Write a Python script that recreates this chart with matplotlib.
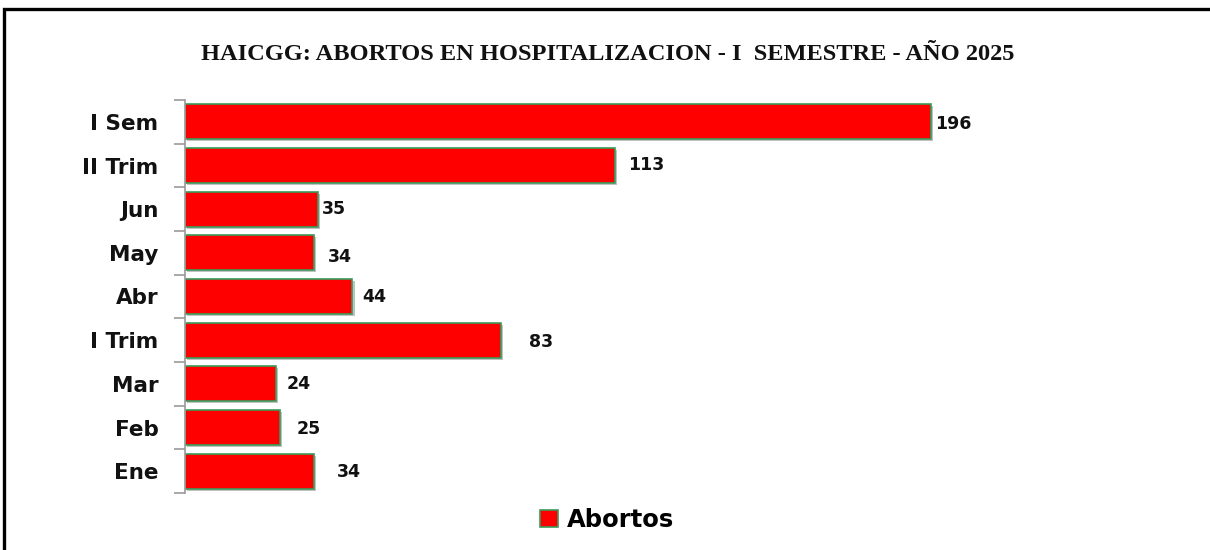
import matplotlib
matplotlib.use("Agg")
import matplotlib.pyplot as plt
import matplotlib.patheffects as pe
from matplotlib.patches import Rectangle
import numpy as np

categories = ["I Sem", "II Trim", "Jun", "May", "Abr", "I Trim", "Mar", "Feb", "Ene"]
values = [196, 113, 35, 34, 44, 83, 24, 25, 34]
series_name = "Abortos"
title = "HAICGG: ABORTOS EN HOSPITALIZACION - I  SEMESTRE - AÑO 2025"

# layout: pixel offsets of the data labels from the bar ends (as in the original)
label_dx_px = [4, 13, 4, 13, 10, 28, 10, 16, 22]
label_dy_px = [2, -1, 0, 4, 0, 2, 0, 1, 1]

W, H = 1210, 550
fig = plt.figure(figsize=(W / 100, H / 100), dpi=100)
fig.patch.set_facecolor("white")

# outer frame
fig.patches.append(Rectangle((4 / W, -0.02), 1.1, (H - 9) / H + 0.02, transform=fig.transFigure,
                             fill=False, edgecolor="black", linewidth=2.4))

xmax = 220
px_per_unit = (931 - 185) / 196
left = 185 / W
width = (xmax * px_per_unit) / W
ax = fig.add_axes([left, (H - 493) / H, width, (493 - 100) / H])

n = len(categories)
ypos = np.arange(n)
ax.barh(ypos, values, height=0.8, color="#FF0000", edgecolor="#3C9A5A", linewidth=1.2,
        path_effects=[pe.SimplePatchShadow(offset=(1.5, -1.5), shadow_rgbFace="#999999", alpha=0.6), pe.Normal()])
ax.set_ylim(n - 0.5, -0.5)
ax.set_xlim(0, xmax)

for spine in ["top", "right", "bottom"]:
    ax.spines[spine].set_visible(False)
ax.spines["left"].set_color("#9A9A9A")
ax.spines["left"].set_linewidth(1.2)
ax.set_xticks([])
ax.set_yticks(ypos)
ax.set_yticklabels(categories, fontsize=15.5, fontweight="bold", family="DejaVu Sans", color="#111111")
ax.tick_params(axis="y", which="major", length=0, pad=19)
ax.set_yticks(np.arange(-0.5, n, 1), minor=True)
ax.tick_params(axis="y", which="minor", length=8, color="#9A9A9A", width=1.2)

row_px = (493 - 100) / n
for y, v, dx, dy in zip(ypos, values, label_dx_px, label_dy_px):
    ax.text(v + dx / px_per_unit, y + dy / row_px, str(v), va="center", ha="left", fontsize=12.5,
            fontweight="bold", family="DejaVu Sans", color="#111111")

fig.text(608 / W, 1 - 55 / H, title, ha="center", va="center", fontsize=17.6, fontweight="bold",
         family="Liberation Serif", color="#111111")

handle = Rectangle((0, 0), 1, 1, facecolor="#FF0000", edgecolor="#3C9A5A", linewidth=1.2)
fig.legend([handle], [series_name], loc="center", bbox_to_anchor=(607 / W, 1 - 520 / H),
           frameon=False, prop={"size": 17.5, "weight": "bold", "family": "DejaVu Sans"},
           handlelength=0.75, handleheight=0.75, handletextpad=0.35)

fig.savefig("out.png", dpi=100, facecolor="white")
